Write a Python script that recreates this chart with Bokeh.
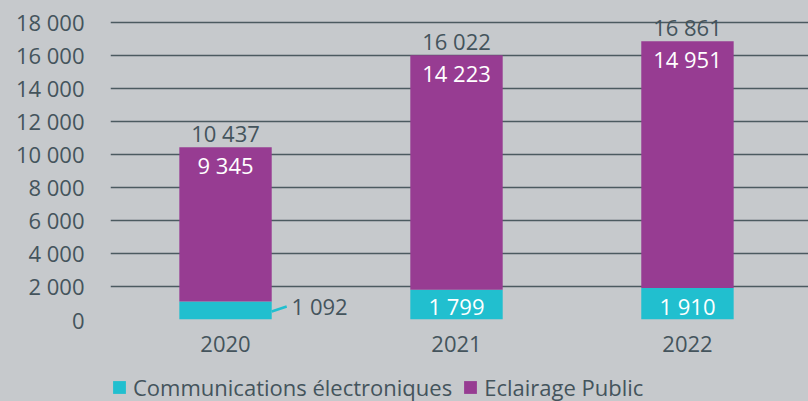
from bokeh.plotting import figure
from bokeh.layouts import column
from bokeh.models import Range1d, FixedTicker, Legend, LegendItem
from bokeh.core.properties import value
from bokeh.embed import file_html
from bokeh.resources import INLINE

# ---- data ----
years = ["2020", "2021", "2022"]
comms = [1092, 1799, 1910]          # Communications électroniques
eclairage = [9345, 14223, 14951]    # Eclairage Public
y_ticks = [0, 2000, 4000, 6000, 8000, 10000, 12000, 14000, 16000, 18000]
y_tick_labels = ["0", "2 000", "4 000", "6 000", "8 000", "10 000",
                 "12 000", "14 000", "16 000", "18 000"]
series_names = ["Communications électroniques", "Eclairage Public"]

# ---- style ----
FONT = "Open Sans"
FS = "22px"
BG = "#c6c9cc"
CYAN = "#21bfcf"
PURPLE = "#973c92"
TXT = "#44545c"
GRID = "#4b5a60"
colors = [CYAN, PURPLE]


def fmt(v):
    return f"{v:,}".replace(",", " ")


xs = list(range(len(years)))
totals = [c + e for c, e in zip(comms, eclairage)]

p = figure(width=808, height=362, output_backend="svg", toolbar_location=None,
           x_range=Range1d(-0.498, 2.524), y_range=Range1d(0, 19333),
           min_border_left=110, min_border_right=0, min_border_top=0,
           min_border_bottom=43)
p.background_fill_color = BG
p.border_fill_color = BG
p.outline_line_color = None
p.styles = {"background-color": BG}

p.xgrid.grid_line_color = None
p.ygrid.ticker = FixedTicker(ticks=y_ticks)
p.ygrid.grid_line_color = GRID
p.ygrid.grid_line_width = 1.6

p.yaxis.ticker = FixedTicker(ticks=y_ticks)
p.yaxis.major_label_overrides = {t: l for t, l in zip(y_ticks, y_tick_labels)}
p.xaxis.ticker = FixedTicker(ticks=xs)
p.xaxis.major_label_overrides = {i: y for i, y in zip(xs, years)}
for ax in (p.xaxis, p.yaxis):
    ax.axis_line_color = None
    ax.major_tick_line_color = None
    ax.minor_tick_line_color = None
    ax.major_label_text_font = FONT
    ax.major_label_text_font_size = FS
    ax.major_label_text_color = TXT
p.yaxis.major_label_standoff = 20
p.xaxis.major_label_standoff = 10

p.vbar(x=xs, bottom=0, top=comms, width=0.4, fill_color=CYAN, line_color=None)
p.vbar(x=xs, bottom=comms, top=totals, width=0.4, fill_color=PURPLE, line_color=None)

common = dict(text_font=value(FONT), text_font_size=FS)
# totals above bars
p.text(x=xs, y=totals, text=[fmt(v) for v in totals], text_align="center",
       text_baseline="bottom", y_offset=1, text_color=TXT, **common)
# eclairage labels inside top of purple
p.text(x=xs, y=totals, text=[fmt(v) for v in eclairage], text_align="center",
       text_baseline="top", y_offset=3, text_color="white", **common)
# comms labels
ins = [(x, c) for x, c in zip(xs, comms) if c >= 1500]
outs = [(x, c) for x, c in zip(xs, comms) if c < 1500]
p.text(x=[a for a, _ in ins], y=[0 for _ in ins],
       text=[fmt(c) for _, c in ins], text_align="center",
       text_baseline="middle", y_offset=-14, text_color="white", **common)
p.text(x=[a + 0.286 for a, _ in outs], y=[0 for _ in outs],
       text=[fmt(c) for _, c in outs], text_align="left",
       text_baseline="middle", y_offset=-14, text_color=TXT, **common)
p.segment(x0=[a + 0.2 for a, _ in outs], y0=[c * 0.445 for _, c in outs],
          x1=[a + 0.265 for a, _ in outs], y1=[c * 0.72 for _, c in outs],
          line_color=CYAN, line_width=2.5)

# ---- legend strip ----
pl = figure(width=808, height=39, output_backend="svg", toolbar_location=None,
            x_range=Range1d(0, 1), y_range=Range1d(0, 1),
            x_axis_type=None, y_axis_type=None,
            min_border_left=0, min_border_right=0, min_border_top=0,
            min_border_bottom=0)
pl.background_fill_color = BG
pl.border_fill_color = BG
pl.outline_line_color = None
pl.styles = {"background-color": BG}
pl.grid.visible = False
items = []
for name, col in zip(series_names, colors):
    # zero-size bar: only provides the legend swatch
    r = pl.vbar(x=[0], bottom=[0], top=[0], width=0, fill_color=col, line_color=None)
    items.append(LegendItem(label=name, renderers=[r]))
legend = Legend(items=items, orientation="horizontal", location=(1, -1),
                padding=0, margin=0, spacing=10,
                glyph_width=16, glyph_height=16, label_standoff=6,
                label_text_font=FONT, label_text_font_size=FS,
                label_text_color=TXT,
                background_fill_alpha=0, border_line_color=None)
pl.add_layout(legend)

lay = column(p, pl, spacing=0)
lay.styles = {"background-color": BG}
open("out.html", "w").write(file_html(lay, INLINE))
